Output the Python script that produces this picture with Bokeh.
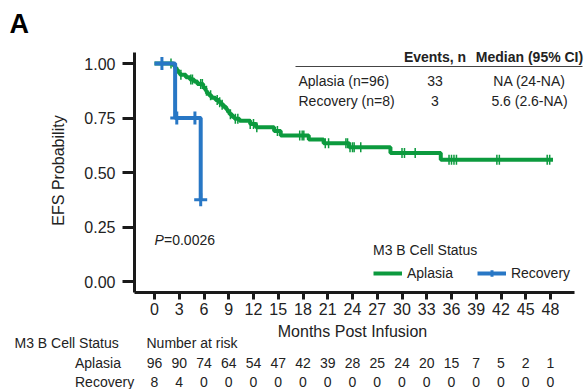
import numpy as np
from bokeh.plotting import figure
from bokeh.models import Range1d, FixedTicker, NumeralTickFormatter, Label, Legend, LegendItem
from bokeh.embed import file_html
from bokeh.resources import INLINE

# ---- data -------------------------------------------------------------
# Kaplan-Meier step points (time in months, EFS probability)
aplasia_times = [0, 2.3, 2.5, 2.7, 2.9, 3.1, 3.8, 4.3, 4.8, 5.2, 5.9, 6.0, 6.2, 6.35,
                 6.6, 6.9, 7.4, 7.8, 8.1, 8.4, 8.7, 8.9, 9.1, 9.4, 9.7, 10.3, 11.6,
                 12.3, 14.5, 15.3, 18.7, 20.5, 23.6, 28.6, 34.7, 48.3]
aplasia_surv = [1.0, 0.990, 0.979, 0.969, 0.958, 0.948, 0.937, 0.927, 0.917, 0.906,
                0.896, 0.885, 0.875, 0.864, 0.854, 0.843, 0.833, 0.822, 0.811, 0.800,
                0.789, 0.778, 0.767, 0.756, 0.746, 0.737, 0.722, 0.708, 0.690, 0.670,
                0.651, 0.634, 0.616, 0.589, 0.558, 0.558]
aplasia_censored = [2.0, 3.2, 4.4, 4.6, 5.6, 5.8, 6.3, 6.8, 7.6, 7.9, 8.2, 9.2, 9.8,
                    10.1, 11.6, 12.0, 12.4, 14.9, 17.6, 17.9, 18.1, 20.7, 21.1, 23.2,
                    23.4, 23.7, 24.0, 24.2, 25.0, 30.0, 30.3, 31.6, 35.7, 36.0, 36.3,
                    36.6, 41.5, 41.8, 47.6, 47.9]

recovery_times = [0, 2.5, 5.6]
recovery_surv = [1.0, 0.75, 0.375]
recovery_censored = [0.9, 2.7, 4.9, 5.6]

# number at risk
risk_months = [0, 3, 6, 9, 12, 15, 18, 21, 24, 27, 30, 33, 36, 39, 42, 45, 48]
aplasia_at_risk = [96, 90, 74, 64, 54, 47, 42, 39, 28, 25, 24, 20, 15, 7, 5, 2, 1]
recovery_at_risk = [8, 4, 0, 0, 0, 0, 0, 0, 0, 0, 0, 0, 0, 0, 0, 0, 0]

y_ticks = [0.0, 0.25, 0.5, 0.75, 1.0]

# summary table
table_groups = ["Aplasia (n=96)", "Recovery (n=8)"]
table_events = ["33", "3"]
table_median = ["NA (24-NA)", "5.6 (2.6-NA)"]

GREEN = "#0C9A3E"
BLUE = "#2877C5"
INK = "#222222"
FONT = "Liberation Sans"

# ---- page geometry (pixels) ---------------------------------------------
# The frame spans the whole page; axes sit at fixed locations inside it so
# that the risk table and titles can share the same coordinate system.
W, H = 586, 389
AX_LEFT, AX_RIGHT, AX_TOP, AX_BOTTOM = 134, 574, 52, 292
X0_PX, PX_PER_MONTH = 154.0, 8.25      # where month 0 sits, month spacing
Y0_PX, PX_PER_UNIT = 281.0, 218.0      # where probability 0 sits, unit height


def dx(px):
    return (px - X0_PX) / PX_PER_MONTH


def dy(py):
    return (Y0_PX - py) / PX_PER_UNIT


def step_value(times, surv, t):
    i = np.searchsorted(np.asarray(times), t, side="right") - 1
    return surv[i]


p = figure(width=W, height=H, output_backend="svg", toolbar_location=None,
           x_range=Range1d(dx(0), dx(W)), y_range=Range1d(dy(H), dy(0)),
           min_border=0)
p.outline_line_color = None
p.grid.visible = False
p.background_fill_color = "white"
p.border_fill_color = "white"

# axes
for ax in (p.xaxis[0], p.yaxis[0]):
    ax.axis_line_width = 3
    ax.axis_line_color = "#1a1a1a"
    ax.major_tick_line_width = 3
    ax.major_tick_line_color = "#1a1a1a"
    ax.major_tick_in = 0
    ax.minor_tick_out = 0
    ax.minor_tick_in = 0
    ax.major_label_text_font = FONT
    ax.major_label_text_font_size = "16px"
    ax.major_label_text_color = INK

p.xaxis.ticker = FixedTicker(ticks=risk_months, minor_ticks=[])
p.xaxis.fixed_location = dy(AX_BOTTOM)
p.xaxis.bounds = (dx(AX_LEFT), dx(AX_RIGHT))
p.xaxis.major_tick_out = 7
p.xaxis.major_label_standoff = 3

p.yaxis.ticker = FixedTicker(ticks=y_ticks, minor_ticks=[])
p.yaxis.formatter = NumeralTickFormatter(format="0.00")
p.yaxis.fixed_location = dx(AX_LEFT)
p.yaxis.bounds = (dy(AX_BOTTOM), dy(AX_TOP))
p.yaxis.major_tick_out = 12
p.yaxis.major_label_standoff = 7

# curves
g_line = p.step(aplasia_times, aplasia_surv, mode="after", line_color=GREEN, line_width=4)
g_cx = aplasia_censored
g_cy = [step_value(aplasia_times, aplasia_surv, t) for t in g_cx]
g_cens = p.scatter(g_cx, g_cy, marker="dash", angle=np.pi / 2, size=10,
                   line_color=GREEN, line_width=1.5)

b_line = p.step(recovery_times, recovery_surv, mode="after", line_color=BLUE, line_width=4)
b_cx = recovery_censored
b_cy = [step_value(recovery_times, recovery_surv, t) for t in b_cx]
b_cens = p.scatter(b_cx, b_cy, marker="cross", size=13, line_color=BLUE, line_width=3)

# legend
legend = Legend(items=[LegendItem(label="Aplasia", renderers=[g_line, g_cens]),
                       LegendItem(label="Recovery", renderers=[b_line, b_cens])],
                location=(373, H - 281),
                orientation="horizontal",
                title="M3 B Cell Status",
                title_text_font=FONT, title_text_font_size="14px",
                title_text_font_style="normal", title_text_color=INK,
                title_standoff=7,
                label_text_font=FONT, label_text_font_size="14px",
                label_text_color=INK, label_standoff=5, label_height=16,
                glyph_width=29, glyph_height=16, spacing=24,
                padding=0, margin=0, border_line_color=None,
                background_fill_alpha=0)
p.add_layout(legend)


def text(s, px, py, size="14px", align="left", style="normal", angle=0.0,
         color=INK, x=None, y=None):
    p.add_layout(Label(x=dx(px) if x is None else x, y=dy(py) if y is None else y,
                       text=s, text_font=FONT, text_font_size=size,
                       text_font_style=style, text_color=color,
                       text_align=align, text_baseline="middle", angle=angle))


# panel letter
text("A", 9, 23, size="27px", style="bold", color="black")

# axis titles
text("EFS Probability", 58, 170, size="16px", align="center", angle=np.pi / 2)
text("Months Post Infusion", 0, 330.5, size="16px", align="center",
     x=(risk_months[0] + risk_months[-1]) / 2)

# log-rank p value
text("P", 154, 239, style="italic")
text("=0.0026", 163.5, 239)

# summary table
p.segment(x0=dx(295), y0=dy(66), x1=dx(582), y1=dy(66), line_color="#444444", line_width=1)
text("Events, n", 434.5, 56, align="center", style="bold")
text("Median (95% CI)", 529, 56, align="center", style="bold")
for k, (g, e, m) in enumerate(zip(table_groups, table_events, table_median)):
    row_y = 80 + 20 * k
    text(g, 298, row_y)
    text(e, 434.5, row_y, align="center")
    text(m, 529, row_y, align="center")

# number at risk table
text("M3 B Cell Status", 14, 342.5)
text("Number at risk", 146, 342.5)
for name, counts, row_y in (("Aplasia", aplasia_at_risk, 362),
                            ("Recovery", recovery_at_risk, 381)):
    text(name, 74.5, row_y)
    for m, c in zip(risk_months, counts):
        text(str(c), 0, row_y, align="center", x=m)

open("out.html", "w").write(file_html(p, INLINE))
